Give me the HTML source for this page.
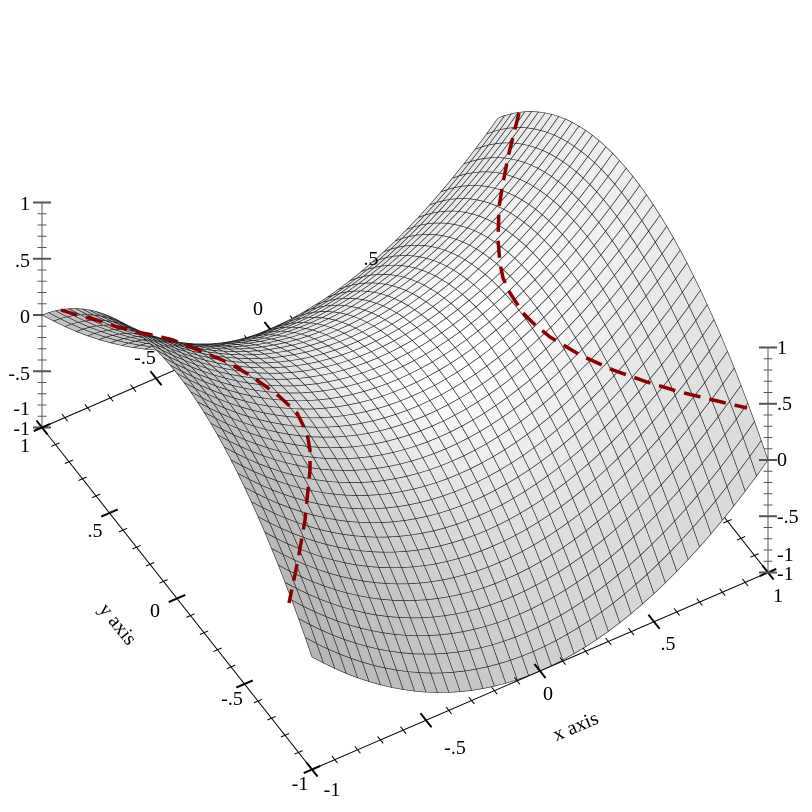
<!DOCTYPE html>
<html><head><meta charset="utf-8"><style>
html,body{margin:0;padding:0;background:#fff;width:812px;height:812px;overflow:hidden}
svg text{font-family:"Liberation Serif",serif;font-size:20px;fill:#000}
</style></head><body>
<svg id="s" width="812" height="812" viewBox="0 0 812 812" xmlns="http://www.w3.org/2000/svg"></svg>
<script>
var S=document.getElementById('s');
function P(x,y,z){return [405+228*x-135*y, 387.5-98.5*x-171*y-112.5*z];}
var out=[];
function line(a,b,c,w){out.push('<line x1="'+a[0].toFixed(2)+'" y1="'+a[1].toFixed(2)+'" x2="'+b[0].toFixed(2)+'" y2="'+b[1].toFixed(2)+'" stroke="'+c+'" stroke-width="'+w+'"/>');}
var ex=[228,-98.5],ey=[-135,-171];
function nrm(v){var l=Math.hypot(v[0],v[1]);return [v[0]/l,v[1]/l];}
var uex=nrm(ex),uey=nrm(ey);
function axis(f,dir,col){
  var a=f(-1),b=f(1);line(a,b,col,1);
  for(var i=-10;i<=10;i++){var t=i/10,p=f(t),maj=(i%5==0),h=maj?9:4.5;
    line([p[0]-dir[0]*h,p[1]-dir[1]*h],[p[0]+dir[0]*h,p[1]+dir[1]*h],col,maj?2:1);}
}
axis(function(t){return P(t,1,-1);},uey,'#000');
axis(function(t){return P(1,t,-1);},uex,'#000');
axis(function(t){return P(-1,1,t);},[1,0],'#555');
var N=40,quads=[];
function f(x,y){return x*x-y*y;}
var V=[-0.35,0.1,0.93];
for(var i=0;i<N;i++)for(var j=0;j<N;j++){
  var x0=-1+2*i/N,x1=-1+2*(i+1)/N,y0=-1+2*j/N,y1=-1+2*(j+1)/N;
  var xm=(x0+x1)/2,ym=(y0+y1)/2,zm=f(xm,ym);
  var n=[-2*xm,2*ym,1],l=Math.hypot(n[0],n[1],n[2]);
  var d=(n[0]*V[0]+n[1]*V[1]+n[2]*V[2])/l;
  var g=Math.round(255*Math.min(1,Math.max(0.6,0.71+0.3*d)));
  var fd=0.509*xm+0.86*ym;
  var depth=-fd*0.5+zm*0.6;
  var pts=[P(x0,y0,f(x0,y0)),P(x1,y0,f(x1,y0)),P(x1,y1,f(x1,y1)),P(x0,y1,f(x0,y1))];
  quads.push({d:depth,p:pts,g:g});
}
quads.sort(function(a,b){return a.d-b.d;});
quads.forEach(function(q){
  out.push('<polygon points="'+q.p.map(function(p){return p[0].toFixed(2)+','+p[1].toFixed(2);}).join(' ')+'" fill="rgb('+q.g+','+q.g+','+q.g+')" stroke="#222" stroke-width="0.6" stroke-linejoin="round"/>');
});
axis(function(t){return P(t,-1,-1);},uey,'#000');
axis(function(t){return P(-1,t,-1);},uex,'#000');
axis(function(t){return P(1,-1,t);},[1,0],'#555');
var L1=[[61,310],[77,315],[97,320],[117,327],[137,332],[153,335],[173,340],[203,352],[227,362],[253,377],[280,397],[297,413],[307,433],[310,450],[310,470],[305,520],[298,560],[289,603]];
var L2=[[519,113],[513,137],[508,157],[503,183],[499,207],[498,240],[500,263],[503,278],[510,293],[523,313],[533,323],[550,337],[580,355],[613,370],[647,382],[680,392],[713,400],[747,408]];
[L1,L2].forEach(function(L){out.push('<polyline points="'+L.map(function(p){return p.join(',');}).join(' ')+'" fill="none" stroke="#8b0000" stroke-width="3.5" stroke-dasharray="17,9" stroke-linejoin="round"/>');});
function T(x,y,s,anchor,rot){out.push('<text x="'+x+'" y="'+y+'" text-anchor="'+(anchor||'start')+'"'+(rot?' transform="rotate('+rot+' '+x+' '+y+')"':'')+'>'+s+'</text>');}
T(30,210,'1','end');T(30,267,'.5','end');T(30,323,'0','end');T(30,380,'-.5','end');T(30,415,'-1','end');T(30,435,'-1','end');T(30,452,'1','end');
T(95,537,'.5','middle');T(155,617,'0','middle');T(232,705,'-.5','middle');T(300,790,'-1','middle');T(332,796,'-1','middle');
T(455,754,'-.5','middle');T(548,700,'0','middle');T(668,650,'.5','middle');T(778,602,'1','middle');
T(777,354,'1');T(777,410,'.5');T(777,466,'0');T(777,523,'-.5');T(777,561,'-1');T(777,580,'-1');
T(145,364,'-.5','middle');T(258,315,'0','middle');T(371,265,'.5','middle');
T(578,732,'x axis','middle',-23);T(113,628,'y axis','middle',51);
S.innerHTML=out.join('');
</script>
</body></html>
